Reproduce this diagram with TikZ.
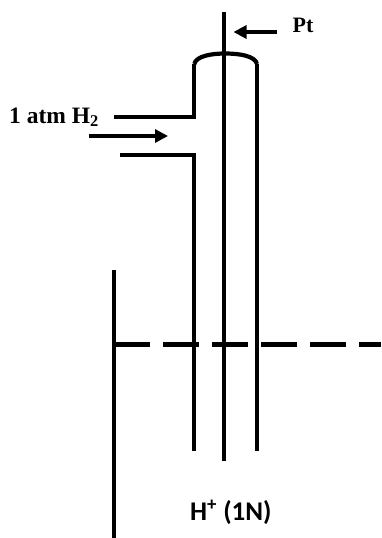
\documentclass[tikz,border=0pt]{standalone}
\usepackage{fontspec}
\setmainfont{Liberation Serif}
\newfontfamily\labelsans{Carlito}
\usetikzlibrary{arrows.meta}
\tikzset{
  wall/.style={line width=4.2pt,line cap=butt,line join=miter,black},
  flow/.style={line width=3.4pt,black,-{Triangle[length=13pt,width=13pt]}},
  level/.style={line width=4.2pt,black,dash pattern=on 35.5pt off 13.5pt},
  lab/.style={inner sep=0pt,anchor=base west,text=black}
}
\begin{document}
\begin{tikzpicture}[x=1pt,y=-1pt]
\useasboundingbox[fill=white] (0,0) rectangle (381,538);
% tube
\coordinate (domeL) at (194.3,64);
\coordinate (domeR) at (257,64);
\draw[wall] (114,117) -- (194.3,117) -- (domeL);
\draw[wall] (domeL) .. controls (196,56) and (212,53.5) .. (225,53.5) .. controls (240,53.5) and (255,56) .. (domeR);
\draw[wall] (120,155) -- (194.3,155) -- (194.3,450.5);
\draw[wall] (domeR) -- (257,450.5);
% platinum wire
\draw[wall] (223.7,12) -- (223.7,461);
% vessel
\draw[wall] (114,270) -- (114,538);
\draw[level] (114,344.5) -- (381,344.5);
% arrows
\coordinate (gasS) at (88.7,136);
\coordinate (gasE) at (168,136);
\coordinate (ptS) at (277,32);
\coordinate (ptE) at (233.5,32);
\draw[flow] (gasS) -- (gasE);
\draw[flow] (ptS) -- (ptE);
% labels
\node[lab,font=\bfseries\fontsize{22}{26}\selectfont] (pt) at (292.5,32) {Pt};
\node[lab,font=\bfseries\fontsize{23.5}{26}\selectfont] (gas) at (9,123) {1 atm H\textsubscript{2}};
\node[lab,font=\labelsans\bfseries\fontsize{27}{30}\selectfont] (ion) at (190,520) {H\textsuperscript{+} (1N)};
\end{tikzpicture}
\end{document}
